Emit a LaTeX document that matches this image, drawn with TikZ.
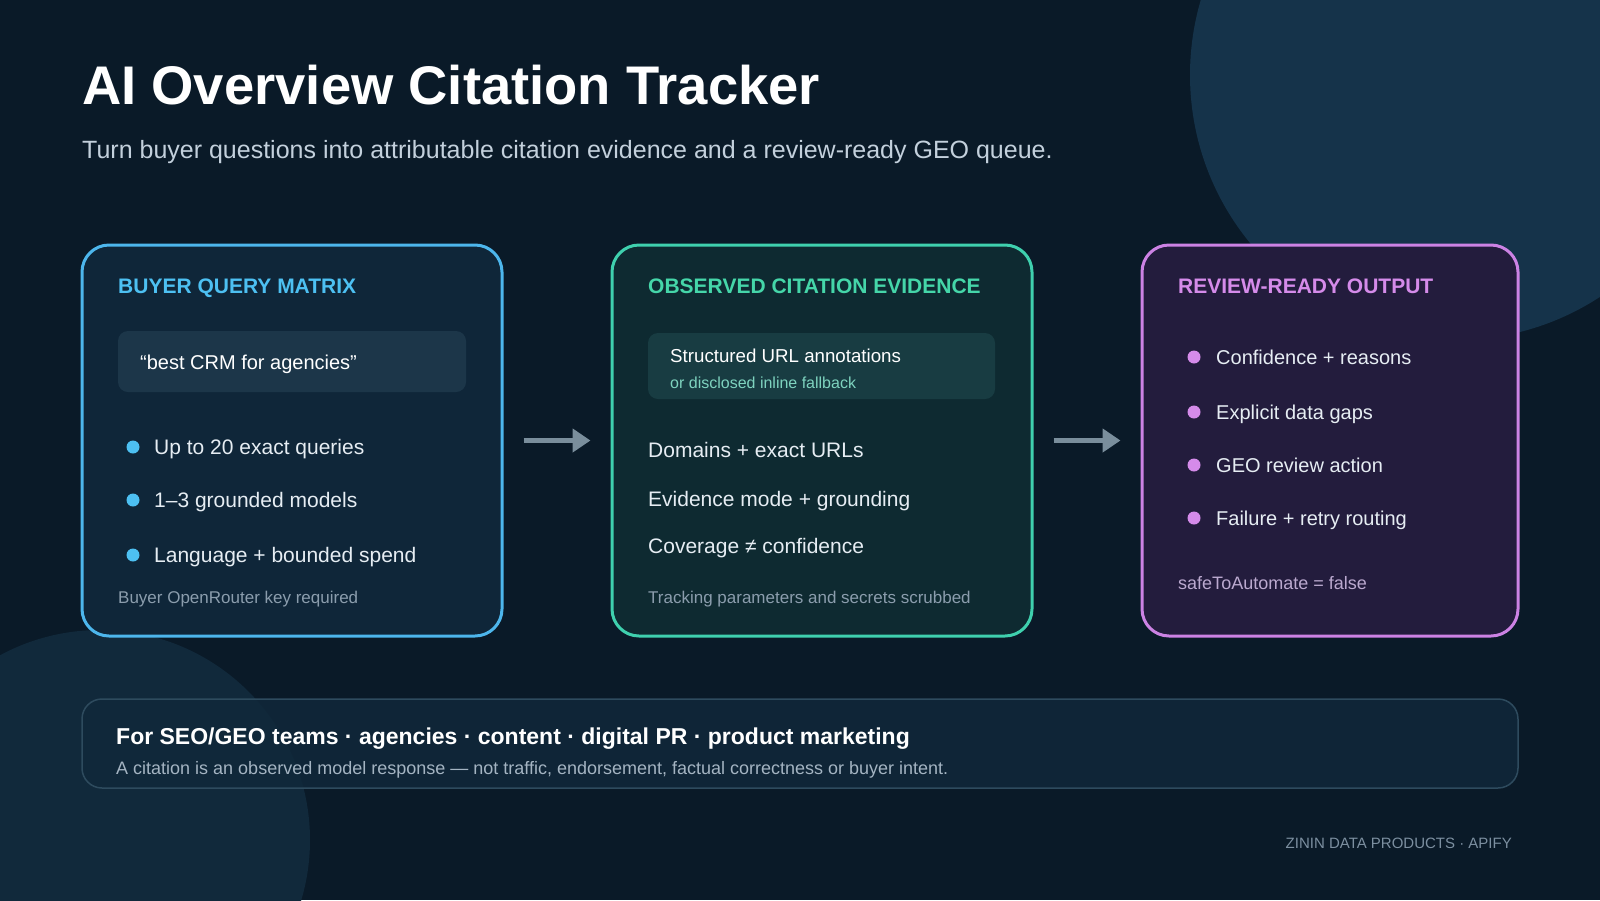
\documentclass[tikz,border=0pt]{standalone}
\usepackage{fontspec}
\setmainfont{Liberation Sans}
\usetikzlibrary{arrows.meta}
\definecolor{bg}{HTML}{0A1A28}
\definecolor{circA}{HTML}{15334A}
\definecolor{circB}{HTML}{11293B}
\definecolor{bAfill}{HTML}{0F2639}
\definecolor{bAline}{HTML}{4DB6EC}
\definecolor{bAhead}{HTML}{4DC0F2}
\definecolor{bBfill}{HTML}{0E2A31}
\definecolor{bBline}{HTML}{3FD0AE}
\definecolor{bBhead}{HTML}{45D6A9}
\definecolor{bCfill}{HTML}{231C3D}
\definecolor{bCline}{HTML}{CC82E4}
\definecolor{bChead}{HTML}{D58BEA}
\definecolor{qfill}{HTML}{1C3649}
\definecolor{q2fill}{HTML}{183C42}
\definecolor{subteal}{HTML}{7ED3BF}
\definecolor{body}{HTML}{E6EDF3}
\definecolor{foot}{HTML}{8B9DAD}
\definecolor{safe}{HTML}{BBA9CF}
\definecolor{arrowc}{HTML}{7A8E9C}
\definecolor{barfill}{HTML}{10283A}
\definecolor{barline}{HTML}{2E4B5E}
\definecolor{barsub}{HTML}{A4B4C2}
\definecolor{footer}{HTML}{7C8FA0}
\definecolor{subtitle}{HTML}{C3D0DC}
\newcommand\setfs[1]{\fontsize{#1}{#1}\selectfont}
\tikzset{
  card/.style={line width=3pt, rounded corners=27pt, inner sep=0pt},
  inbox/.style={rounded corners=10pt, inner sep=0pt},
  txt/.style={anchor=base west, inner sep=0pt},
  head/.style={txt, font=\setfs{21}\bfseries},
  item/.style={txt, text=body, font=\setfs{21}},
  note/.style={txt, text=foot, font=\setfs{17}},
  dot/.style={circle, minimum size=13pt, inner sep=0pt},
  flow/.style={draw=arrowc, fill=arrowc, line width=5pt, shorten <=20pt, shorten >=20pt,
    -{Triangle[length=18pt,width=23pt]}}
}
\begin{document}
\begin{tikzpicture}[x=1pt,y=-1pt]
\useasboundingbox (0,0) rectangle (1600,900);
\fill[bg] (0,0) rectangle (1600,900);
\fill[circA] (1455,75) circle (265pt);
\fill[circB] (100,840) circle (210pt);

% title
\node[txt, text=white, font=\setfs{54.4}\bfseries] (title) at (82,104) {AI Overview Citation Tracker};
\node[txt, text=subtitle, font=\setfs{25}] (subt) at (82,158) {Turn buyer questions into attributable citation evidence and a review-ready GEO queue.};

% cards
\node[card, fill=bAfill, draw=bAline, minimum width=420pt, minimum height=391pt] (b1) at (292,440.5) {};
\node[card, fill=bBfill, draw=bBline, minimum width=420pt, minimum height=391pt] (b2) at (822,440.5) {};
\node[card, fill=bCfill, draw=bCline, minimum width=376pt, minimum height=391pt] (b3) at (1330,440.5) {};

% card 1
\node[head, text=bAhead] (h1) at (118,293) {BUYER QUERY MATRIX};
\node[inbox, fill=qfill, minimum width=348pt, minimum height=61pt] (q1) at (292,361.5) {};
\node[txt, text=white, font=\setfs{20}] (q1t) at (140,369) {“best CRM for agencies”};
\node[dot, fill=bAhead] (d11) at (133,447) {};
\node[item] (i11) at (154,454) {Up to 20 exact queries};
\node[dot, fill=bAhead] (d12) at (133,500) {};
\node[item] (i12) at (154,507) {1–3 grounded models};
\node[dot, fill=bAhead] (d13) at (133,555) {};
\node[item] (i13) at (154,562) {Language + bounded spend};
\node[note] (n1) at (118,603) {Buyer OpenRouter key required};

% card 2
\node[head, text=bBhead] (h2) at (648,293) {OBSERVED CITATION EVIDENCE};
\node[inbox, fill=q2fill, minimum width=347pt, minimum height=66pt] (q2) at (821.5,366) {};
\node[txt, text=white, font=\setfs{18.7}] (q2a) at (670,362) {Structured URL annotations};
\node[txt, text=subteal, font=\setfs{16}] (q2b) at (670,388.5) {or disclosed inline fallback};
\node[item] (i21) at (648,457) {Domains + exact URLs};
\node[item] (i22) at (648,506) {Evidence mode + grounding};
\node[item] (i23) at (648,553) {Coverage ≠ confidence};
\node[note] (n2) at (648,603) {Tracking parameters and secrets scrubbed};

% card 3
\node[head, text=bChead] (h3) at (1178,293) {REVIEW-READY OUTPUT};
\node[dot, fill=bChead] (d31) at (1194,357) {};
\node[item, font=\setfs{20}] (i31) at (1216,364) {Confidence + reasons};
\node[dot, fill=bChead] (d32) at (1194,412) {};
\node[item, font=\setfs{20}] (i32) at (1216,419) {Explicit data gaps};
\node[dot, fill=bChead] (d33) at (1194,465) {};
\node[item, font=\setfs{20}] (i33) at (1216,472) {GEO review action};
\node[dot, fill=bChead] (d34) at (1194,518) {};
\node[item, font=\setfs{20}] (i34) at (1216,525) {Failure + retry routing};
\node[txt, text=safe, font=\setfs{18}] (n3) at (1178,589) {safeToAutomate = false};

% arrows
\draw[flow] (b1.east) -- (b2.west);
\draw[flow] (b2.east) -- (b3.west);

% bottom bar
\node[draw=barline, line width=1.5pt, fill=barfill, fill opacity=0.85, rounded corners=20pt,
  minimum width=1436pt, minimum height=89pt, inner sep=0pt] (bar) at (800,743.5) {};
\node[txt, text=white, font=\setfs{23}\bfseries] (bar1) at (116,744) {For SEO/GEO teams · agencies · content · digital PR · product marketing};
\node[txt, text=barsub, font=\setfs{18}] (bar2) at (116,774) {A citation is an observed model response — not traffic, endorsement, factual correctness or buyer intent.};

% footer
\node[anchor=base east, inner sep=0pt, text=footer, font=\setfs{15}] (foot) at (1512,848) {ZININ DATA PRODUCTS · APIFY};
\end{tikzpicture}
\end{document}
